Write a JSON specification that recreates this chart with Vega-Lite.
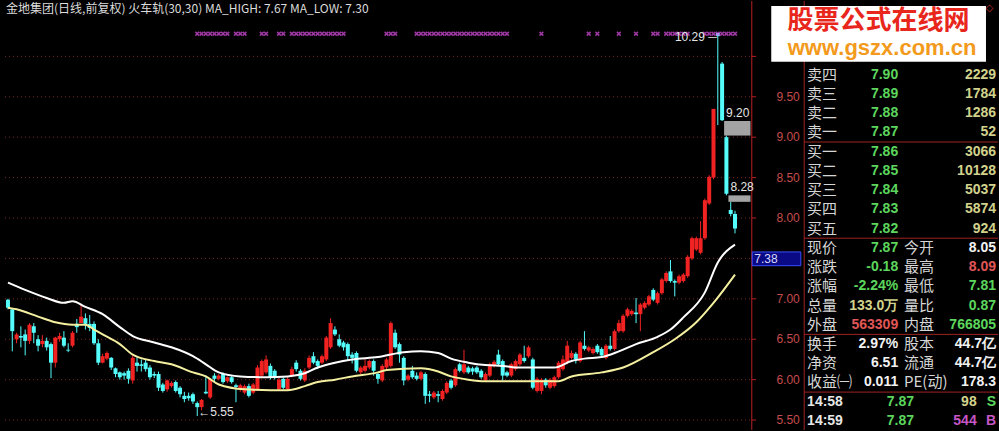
{
"$schema": "https://vega.github.io/schema/vega-lite/v6.json",
"width": 999, "height": 431,
"autosize": {"type": "fit", "contains": "padding"},
"padding": 0,
"background": "#000000",
"config": {"view": {"stroke": null}},
"datasets": {
"k": [
{"i":0,"o":6.99,"h":7.00,"l":6.87,"c":6.89},{"i":1,"o":6.87,"h":6.88,"l":6.35,"c":6.60},{"i":2,"o":6.50,"h":6.58,"l":6.45,"c":6.56},{"i":3,"o":6.54,"h":6.66,"l":6.40,"c":6.52},{"i":4,"o":6.56,"h":6.62,"l":6.30,"c":6.48},{"i":5,"o":6.48,"h":6.70,"l":6.44,"c":6.68},{"i":6,"o":6.66,"h":6.70,"l":6.45,"c":6.58},{"i":7,"o":6.50,"h":6.55,"l":6.35,"c":6.42},{"i":8,"o":6.44,"h":6.55,"l":6.40,"c":6.48},{"i":9,"o":6.48,"h":6.52,"l":6.36,"c":6.40},
{"i":10,"o":6.44,"h":6.46,"l":6.02,"c":6.21},{"i":11,"o":6.21,"h":6.53,"l":6.15,"c":6.52},{"i":12,"o":6.50,"h":6.58,"l":6.47,"c":6.54},{"i":13,"o":6.52,"h":6.60,"l":6.40,"c":6.42},{"i":14,"o":6.37,"h":6.45,"l":6.34,"c":6.36},{"i":15,"o":6.42,"h":6.60,"l":6.40,"c":6.58},{"i":16,"o":6.69,"h":6.75,"l":6.58,"c":6.65},{"i":17,"o":6.70,"h":6.94,"l":6.70,"c":6.78},{"i":18,"o":6.76,"h":6.82,"l":6.62,"c":6.69},{"i":19,"o":6.69,"h":6.80,"l":6.60,"c":6.64},
{"i":20,"o":6.69,"h":6.72,"l":6.43,"c":6.45},{"i":21,"o":6.45,"h":6.50,"l":6.18,"c":6.21},{"i":22,"o":6.21,"h":6.32,"l":6.20,"c":6.29},{"i":23,"o":6.26,"h":6.35,"l":6.24,"c":6.33},{"i":24,"o":6.27,"h":6.28,"l":6.12,"c":6.15},{"i":25,"o":6.14,"h":6.15,"l":6.03,"c":6.07},{"i":26,"o":6.09,"h":6.10,"l":6.00,"c":6.03},{"i":27,"o":6.08,"h":6.10,"l":6.00,"c":6.05},{"i":28,"o":6.11,"h":6.14,"l":5.95,"c":6.01},{"i":29,"o":5.99,"h":6.30,"l":5.95,"c":6.27},
{"i":30,"o":6.21,"h":6.28,"l":6.10,"c":6.17},{"i":31,"o":6.19,"h":6.25,"l":6.10,"c":6.17},{"i":32,"o":6.21,"h":6.25,"l":6.10,"c":6.13},{"i":33,"o":6.15,"h":6.18,"l":6.00,"c":6.03},{"i":34,"o":6.07,"h":6.10,"l":6.02,"c":6.05},{"i":35,"o":6.07,"h":6.10,"l":5.86,"c":5.90},{"i":36,"o":5.94,"h":5.96,"l":5.84,"c":5.86},{"i":37,"o":5.88,"h":6.00,"l":5.85,"c":5.99},{"i":38,"o":5.92,"h":5.98,"l":5.90,"c":5.96},{"i":39,"o":5.97,"h":5.99,"l":5.84,"c":5.86},
{"i":40,"o":5.90,"h":5.92,"l":5.78,"c":5.82},{"i":41,"o":5.80,"h":5.85,"l":5.72,"c":5.76},{"i":42,"o":5.80,"h":5.84,"l":5.74,"c":5.77},{"i":43,"o":5.82,"h":5.84,"l":5.70,"c":5.73},{"i":44,"o":5.71,"h":5.73,"l":5.55,"c":5.66},{"i":45,"o":5.66,"h":5.76,"l":5.62,"c":5.75},{"i":46,"o":5.85,"h":6.05,"l":5.82,"c":5.83},{"i":47,"o":5.78,"h":6.02,"l":5.76,"c":6.01},{"i":48,"o":6.05,"h":6.08,"l":5.98,"c":6.01},{"i":49,"o":6.01,"h":6.07,"l":5.99,"c":6.05},
{"i":50,"o":6.07,"h":6.09,"l":5.95,"c":5.97},{"i":51,"o":5.98,"h":6.04,"l":5.96,"c":6.03},{"i":52,"o":6.03,"h":6.05,"l":5.95,"c":5.97},{"i":53,"o":5.93,"h":5.95,"l":5.72,"c":5.91},{"i":54,"o":5.88,"h":5.95,"l":5.85,"c":5.93},{"i":55,"o":5.84,"h":5.94,"l":5.82,"c":5.92},{"i":56,"o":5.92,"h":5.95,"l":5.78,"c":5.80},{"i":57,"o":5.84,"h":5.96,"l":5.82,"c":5.94},{"i":58,"o":5.88,"h":6.18,"l":5.86,"c":6.15},{"i":59,"o":6.05,"h":6.25,"l":6.03,"c":6.23},
{"i":60,"o":6.09,"h":6.30,"l":6.07,"c":6.25},{"i":61,"o":6.17,"h":6.20,"l":6.00,"c":6.03},{"i":62,"o":6.11,"h":6.13,"l":6.00,"c":6.03},{"i":63,"o":5.88,"h":6.02,"l":5.86,"c":6.00},{"i":64,"o":6.01,"h":6.03,"l":5.88,"c":5.90},{"i":65,"o":5.88,"h":6.03,"l":5.86,"c":6.01},{"i":66,"o":6.05,"h":6.16,"l":6.03,"c":6.13},{"i":67,"o":6.21,"h":6.24,"l":6.10,"c":6.13},{"i":68,"o":6.11,"h":6.13,"l":5.99,"c":6.01},{"i":69,"o":5.99,"h":6.14,"l":5.97,"c":6.11},
{"i":70,"o":6.15,"h":6.30,"l":6.13,"c":6.27},{"i":71,"o":6.29,"h":6.34,"l":6.19,"c":6.21},{"i":72,"o":6.23,"h":6.25,"l":6.13,"c":6.17},{"i":73,"o":6.21,"h":6.31,"l":6.19,"c":6.29},{"i":74,"o":6.25,"h":6.54,"l":6.23,"c":6.52},{"i":75,"o":6.40,"h":6.76,"l":6.38,"c":6.70},{"i":76,"o":6.62,"h":6.66,"l":6.54,"c":6.56},{"i":77,"o":6.50,"h":6.56,"l":6.40,"c":6.42},{"i":78,"o":6.46,"h":6.48,"l":6.36,"c":6.40},{"i":79,"o":6.44,"h":6.46,"l":6.24,"c":6.29},
{"i":80,"o":6.31,"h":6.34,"l":6.20,"c":6.27},{"i":81,"o":6.33,"h":6.35,"l":6.09,"c":6.11},{"i":82,"o":6.09,"h":6.17,"l":6.07,"c":6.15},{"i":83,"o":6.11,"h":6.27,"l":6.09,"c":6.17},{"i":84,"o":6.15,"h":6.25,"l":6.13,"c":6.23},{"i":85,"o":6.23,"h":6.25,"l":6.05,"c":6.11},{"i":86,"o":6.07,"h":6.09,"l":5.95,"c":6.01},{"i":87,"o":5.99,"h":6.19,"l":5.97,"c":6.17},{"i":88,"o":6.15,"h":6.27,"l":6.13,"c":6.25},{"i":89,"o":6.17,"h":6.72,"l":6.15,"c":6.70},
{"i":90,"o":6.58,"h":6.62,"l":6.38,"c":6.40},{"i":91,"o":6.44,"h":6.46,"l":6.21,"c":6.31},{"i":92,"o":6.27,"h":6.29,"l":5.93,"c":5.99},{"i":93,"o":6.00,"h":6.07,"l":5.98,"c":6.05},{"i":94,"o":6.11,"h":6.17,"l":6.01,"c":6.03},{"i":95,"o":6.05,"h":6.09,"l":5.99,"c":6.01},{"i":96,"o":6.01,"h":6.11,"l":5.99,"c":6.09},{"i":97,"o":6.07,"h":6.09,"l":5.70,"c":5.80},{"i":98,"o":5.82,"h":5.86,"l":5.72,"c":5.80},{"i":99,"o":5.78,"h":5.86,"l":5.76,"c":5.84},
{"i":100,"o":5.82,"h":5.86,"l":5.72,"c":5.80},{"i":101,"o":5.76,"h":5.88,"l":5.74,"c":5.86},{"i":102,"o":5.84,"h":5.98,"l":5.82,"c":5.96},{"i":103,"o":5.99,"h":6.01,"l":5.88,"c":5.90},{"i":104,"o":5.93,"h":6.15,"l":5.91,"c":6.13},{"i":105,"o":6.19,"h":6.21,"l":6.09,"c":6.11},{"i":106,"o":6.09,"h":6.37,"l":6.07,"c":6.19},{"i":107,"o":6.15,"h":6.17,"l":6.07,"c":6.09},{"i":108,"o":6.14,"h":6.16,"l":6.06,"c":6.10},{"i":109,"o":6.15,"h":6.17,"l":6.07,"c":6.09},
{"i":110,"o":6.11,"h":6.13,"l":6.01,"c":6.03},{"i":111,"o":5.99,"h":6.09,"l":5.97,"c":6.07},{"i":112,"o":6.05,"h":6.21,"l":6.03,"c":6.19},{"i":113,"o":6.17,"h":6.24,"l":6.15,"c":6.22},{"i":114,"o":6.31,"h":6.37,"l":6.17,"c":6.19},{"i":115,"o":6.23,"h":6.25,"l":5.99,"c":6.05},{"i":116,"o":6.09,"h":6.11,"l":6.03,"c":6.05},{"i":117,"o":6.05,"h":6.21,"l":6.03,"c":6.19},{"i":118,"o":6.13,"h":6.25,"l":6.11,"c":6.23},{"i":119,"o":6.19,"h":6.33,"l":6.17,"c":6.31},
{"i":120,"o":6.27,"h":6.42,"l":6.21,"c":6.23},{"i":121,"o":6.29,"h":6.42,"l":6.27,"c":6.40},{"i":122,"o":6.25,"h":6.27,"l":5.88,"c":5.90},{"i":123,"o":5.86,"h":6.03,"l":5.84,"c":6.01},{"i":124,"o":5.86,"h":6.02,"l":5.82,"c":6.00},{"i":125,"o":6.00,"h":6.02,"l":5.90,"c":5.93},{"i":126,"o":5.90,"h":6.02,"l":5.88,"c":6.00},{"i":127,"o":5.92,"h":6.05,"l":5.90,"c":6.03},{"i":128,"o":6.03,"h":6.23,"l":6.01,"c":6.21},{"i":129,"o":6.13,"h":6.30,"l":6.11,"c":6.25},
{"i":130,"o":6.21,"h":6.48,"l":6.19,"c":6.42},{"i":131,"o":6.27,"h":6.36,"l":6.25,"c":6.33},{"i":132,"o":6.32,"h":6.34,"l":6.20,"c":6.25},{"i":133,"o":6.23,"h":6.48,"l":6.21,"c":6.46},{"i":134,"o":6.42,"h":6.60,"l":6.36,"c":6.38},{"i":135,"o":6.36,"h":6.42,"l":6.34,"c":6.40},{"i":136,"o":6.33,"h":6.40,"l":6.31,"c":6.38},{"i":137,"o":6.42,"h":6.44,"l":6.32,"c":6.34},{"i":138,"o":6.38,"h":6.40,"l":6.28,"c":6.30},{"i":139,"o":6.27,"h":6.44,"l":6.25,"c":6.42},
{"i":140,"o":6.42,"h":6.54,"l":6.36,"c":6.38},{"i":141,"o":6.38,"h":6.62,"l":6.36,"c":6.60},{"i":142,"o":6.60,"h":6.74,"l":6.58,"c":6.70},{"i":143,"o":6.60,"h":6.81,"l":6.58,"c":6.79},{"i":144,"o":6.79,"h":6.89,"l":6.77,"c":6.87},{"i":145,"o":6.81,"h":6.87,"l":6.79,"c":6.85},{"i":146,"o":6.83,"h":7.01,"l":6.70,"c":6.81},{"i":147,"o":6.81,"h":6.95,"l":6.60,"c":6.93},{"i":148,"o":6.89,"h":6.97,"l":6.87,"c":6.95},{"i":149,"o":6.93,"h":7.05,"l":6.91,"c":7.03},
{"i":150,"o":7.11,"h":7.13,"l":6.97,"c":6.99},{"i":151,"o":6.95,"h":7.09,"l":6.93,"c":7.07},{"i":152,"o":7.07,"h":7.26,"l":7.05,"c":7.24},{"i":153,"o":7.22,"h":7.34,"l":7.20,"c":7.32},{"i":154,"o":7.34,"h":7.48,"l":7.20,"c":7.22},{"i":155,"o":7.22,"h":7.24,"l":7.03,"c":7.20},{"i":156,"o":7.20,"h":7.30,"l":7.18,"c":7.28},{"i":157,"o":7.22,"h":7.32,"l":7.20,"c":7.30},{"i":158,"o":7.28,"h":7.54,"l":7.26,"c":7.52},{"i":159,"o":7.50,"h":7.77,"l":7.48,"c":7.75},
{"i":160,"o":7.61,"h":7.77,"l":7.59,"c":7.75},{"i":161,"o":7.57,"h":7.96,"l":7.55,"c":7.75},{"i":162,"o":7.75,"h":8.24,"l":7.73,"c":8.22},{"i":163,"o":8.18,"h":8.53,"l":8.16,"c":8.51},{"i":164,"o":8.50,"h":9.35,"l":8.48,"c":9.35},{"i":165,"o":10.29,"h":10.29,"l":9.15,"c":10.25},{"i":166,"o":9.91,"h":9.93,"l":9.20,"c":9.21},{"i":167,"o":9.00,"h":9.02,"l":8.28,"c":8.30},{"i":168,"o":8.10,"h":8.20,"l":8.02,"c":8.05},{"i":169,"o":8.05,"h":8.09,"l":7.81,"c":7.87}
],
"mah": [
{"i":0,"v":7.20},{"i":4,"v":7.11},{"i":9,"v":7.01},{"i":13,"v":6.95},{"i":15,"v":6.97},{"i":18,"v":6.90},{"i":22,"v":6.81},{"i":26,"v":6.65},{"i":29,"v":6.54},{"i":34,"v":6.46},{"i":38,"v":6.40},{"i":43,"v":6.29},{"i":46,"v":6.19},{"i":49,"v":6.09},{"i":54,"v":6.04},{"i":60,"v":6.03},{"i":65,"v":6.04},{"i":69,"v":6.08},{"i":72,"v":6.15},{"i":76,"v":6.21},{"i":80,"v":6.25},{"i":86,"v":6.28},{"i":92,"v":6.34},{"i":96,"v":6.35},{"i":100,"v":6.33},{"i":103,"v":6.26},{"i":107,"v":6.21},{"i":111,"v":6.18},{"i":115,"v":6.17},{"i":119,"v":6.15},{"i":127,"v":6.15},{"i":131,"v":6.23},{"i":134,"v":6.26},{"i":138,"v":6.28},{"i":142,"v":6.35},{"i":146,"v":6.44},{"i":151,"v":6.53},{"i":154,"v":6.62},{"i":157,"v":6.77},{"i":162,"v":7.08},{"i":165,"v":7.45},{"i":169,"v":7.67}
],
"mal": [
{"i":0,"v":6.89},{"i":2,"v":6.87},{"i":7,"v":6.78},{"i":11,"v":6.71},{"i":15,"v":6.68},{"i":18,"v":6.68},{"i":20,"v":6.62},{"i":22,"v":6.56},{"i":26,"v":6.44},{"i":29,"v":6.31},{"i":34,"v":6.23},{"i":38,"v":6.19},{"i":43,"v":6.09},{"i":46,"v":6.04},{"i":49,"v":5.94},{"i":55,"v":5.88},{"i":61,"v":5.87},{"i":65,"v":5.87},{"i":69,"v":5.92},{"i":72,"v":5.97},{"i":76,"v":6.00},{"i":80,"v":6.04},{"i":86,"v":6.09},{"i":88,"v":6.12},{"i":96,"v":6.14},{"i":100,"v":6.10},{"i":103,"v":6.04},{"i":107,"v":6.00},{"i":111,"v":5.98},{"i":128,"v":5.98},{"i":131,"v":6.04},{"i":138,"v":6.09},{"i":143,"v":6.15},{"i":150,"v":6.34},{"i":155,"v":6.50},{"i":160,"v":6.71},{"i":164,"v":6.95},{"i":169,"v":7.30}
],
"sig": [
{"i":44},{"i":45},{"i":46},{"i":47},{"i":48},{"i":49},{"i":50},{"i":51},{"i":53},{"i":54},{"i":55},{"i":59},{"i":60},{"i":63},{"i":64},{"i":66},{"i":67},{"i":68},{"i":69},{"i":70},{"i":71},{"i":72},{"i":73},{"i":74},{"i":75},{"i":76},{"i":77},{"i":78},{"i":88},{"i":89},{"i":90},
{"i":95},{"i":96},{"i":97},{"i":98},{"i":99},{"i":100},{"i":101},{"i":102},{"i":103},{"i":104},{"i":105},{"i":106},{"i":107},{"i":108},{"i":109},{"i":110},{"i":111},{"i":112},{"i":113},{"i":114},{"i":115},{"i":116},
{"i":124},{"i":135},{"i":137},{"i":142},{"i":146},{"i":150},{"i":151},{"i":153},{"i":154},{"i":155},{"i":156},{"i":157},{"i":158},{"i":162},{"i":163},{"i":164},{"i":165},{"i":166},{"i":167},{"i":168},{"i":169}
],
"grid": [{"p":5.5},{"p":6.0},{"p":6.5},{"p":7.0},{"p":7.5},{"p":8.0},{"p":8.5},{"p":9.0},{"p":9.5},{"p":10.0}],
"axis": [{"p":5.5},{"p":6.0},{"p":6.5},{"p":7.0},{"p":7.5},{"p":8.0},{"p":8.5},{"p":9.0},{"p":9.5}],
"gaps": [{"i":166,"lo":9.02,"hi":9.20},{"i":167,"lo":8.20,"hi":8.28}],
"panel": [
{"r":1,"k1":"卖四","v1":"7.90","c1":"dn","k2":"","v2":"2229","c2":"vol"},
{"r":2,"k1":"卖三","v1":"7.89","c1":"dn","k2":"","v2":"1784","c2":"vol"},
{"r":3,"k1":"卖二","v1":"7.88","c1":"dn","k2":"","v2":"1286","c2":"vol"},
{"r":4,"k1":"卖一","v1":"7.87","c1":"dn","k2":"","v2":"52","c2":"vol"},
{"r":5,"k1":"买一","v1":"7.86","c1":"dn","k2":"","v2":"3066","c2":"vol"},
{"r":6,"k1":"买二","v1":"7.85","c1":"dn","k2":"","v2":"10128","c2":"vol"},
{"r":7,"k1":"买三","v1":"7.84","c1":"dn","k2":"","v2":"5037","c2":"vol"},
{"r":8,"k1":"买四","v1":"7.83","c1":"dn","k2":"","v2":"5874","c2":"vol"},
{"r":9,"k1":"买五","v1":"7.82","c1":"dn","k2":"","v2":"924","c2":"vol"},
{"r":10,"k1":"现价","v1":"7.87","c1":"dn","k2":"今开","v2":"8.05","c2":"wh"},
{"r":11,"k1":"涨跌","v1":"-0.18","c1":"dn","k2":"最高","v2":"8.09","c2":"up"},
{"r":12,"k1":"涨幅","v1":"-2.24%","c1":"dn","k2":"最低","v2":"7.81","c2":"dn"},
{"r":13,"k1":"总量","v1":"133.0万","c1":"vol","k2":"量比","v2":"0.87","c2":"dn"},
{"r":14,"k1":"外盘","v1":"563309","c1":"up","k2":"内盘","v2":"766805","c2":"dn"},
{"r":15,"k1":"换手","v1":"2.97%","c1":"wh","k2":"股本","v2":"44.7亿","c2":"wh"},
{"r":16,"k1":"净资","v1":"6.51","c1":"wh","k2":"流通","v2":"44.7亿","c2":"wh"},
{"r":17,"k1":"收益㈠","v1":"0.011","c1":"wh","k2":"PE(动)","v2":"178.3","c2":"wh"}
],
"ticks": [
{"r":18,"t":"14:58","p":"7.87","pc":"dn","n":"98","nc":"vol","s":"S","sc":"dn"},
{"r":19,"t":"14:59","p":"7.87","pc":"dn","n":"544","nc":"pur","s":"B","sc":"pur"}
],
"seps": [{"r":4.5},{"r":9.5},{"r":14.5},{"r":17.5}]
},
"resolve": {"scale": {"x": "independent", "y": "independent", "color": "independent"}},
"layer": [
{
"layer": [
{"data": {"name": "grid"},
 "mark": {"type": "rule", "stroke": "#7a2626", "strokeDash": [1, 3], "strokeWidth": 1},
 "encoding": {
  "x": {"datum": -0.69, "type": "quantitative", "scale": {"domain": [-0.69, 228.97], "nice": false, "zero": false}, "axis": null},
  "x2": {"datum": 172.9},
  "y": {"field": "p", "type": "quantitative", "scale": {"domain": [5.377, 10.685], "nice": false, "zero": false}, "axis": null}
 }},
{"data": {"values": [{"t": "axis"}]},
 "mark": {"type": "rule", "stroke": "#b82020", "strokeWidth": 1},
 "encoding": {
  "x": {"datum": 172.9, "type": "quantitative", "axis": null},
  "y": {"datum": 5.377, "type": "quantitative", "axis": null},
  "y2": {"datum": 10.685}
 }},
{"data": {"name": "grid"},
 "mark": {"type": "rule", "stroke": "#b82020", "strokeWidth": 1},
 "encoding": {
  "x": {"datum": 172.9, "type": "quantitative", "axis": null},
  "x2": {"datum": 173.9},
  "y": {"field": "p", "type": "quantitative", "axis": null}
 }},
{"data": {"name": "axis"},
 "mark": {"type": "text", "align": "right", "baseline": "middle", "dx": 48, "fill": "#c44c4c", "font": "Liberation Sans", "fontSize": 12},
 "encoding": {
  "x": {"datum": 172.9, "type": "quantitative", "axis": null},
  "y": {"field": "p", "type": "quantitative", "axis": null},
  "text": {"field": "p", "format": ".2f"}
 }},
{"data": {"name": "k"},
 "mark": {"type": "rule", "strokeWidth": 1},
 "encoding": {
  "x": {"field": "i", "type": "quantitative", "axis": null},
  "y": {"field": "l", "type": "quantitative", "axis": null},
  "y2": {"field": "h"},
  "color": {"condition": {"test": "datum.c < datum.o", "value": "#54fcfc"}, "value": "#f02222"}
 }},
{"data": {"name": "k"},
 "mark": {"type": "bar", "width": 4},
 "encoding": {
  "x": {"field": "i", "type": "quantitative", "axis": null},
  "y": {"field": "o", "type": "quantitative", "axis": null},
  "y2": {"field": "c"},
  "color": {"condition": {"test": "datum.c < datum.o", "value": "#54fcfc"}, "value": "#f02222"}
 }},
{"data": {"name": "mah"},
 "mark": {"type": "line", "stroke": "#ffffff", "strokeWidth": 2, "interpolate": "monotone"},
 "encoding": {
  "x": {"field": "i", "type": "quantitative", "axis": null},
  "y": {"field": "v", "type": "quantitative", "axis": null}
 }},
{"data": {"name": "mal"},
 "mark": {"type": "line", "stroke": "#f4f0a0", "strokeWidth": 2, "interpolate": "monotone"},
 "encoding": {
  "x": {"field": "i", "type": "quantitative", "axis": null},
  "y": {"field": "v", "type": "quantitative", "axis": null}
 }},
{"data": {"name": "sig"},
 "mark": {"type": "point", "shape": "M-1,-1L1,1M1,-1L-1,1", "size": 14, "filled": false, "stroke": "#e050e8", "strokeWidth": 1.5},
 "encoding": {
  "x": {"field": "i", "type": "quantitative", "axis": null},
  "y": {"datum": 10.28, "type": "quantitative", "axis": null}
 }},
{"data": {"name": "gaps"},
 "mark": {"type": "rect", "fill": "#a4a4a4", "xOffset": 2},
 "encoding": {
  "x": {"field": "i", "type": "quantitative", "axis": null},
  "x2": {"datum": 172.6},
  "y": {"field": "lo", "type": "quantitative", "axis": null},
  "y2": {"field": "hi"}
 }},
{"data": {"name": "gaps"},
 "mark": {"type": "text", "align": "left", "baseline": "bottom", "dx": 4, "dy": -1, "fill": "#e6e6e6", "font": "Liberation Sans", "fontSize": 12},
 "encoding": {
  "x": {"field": "i", "type": "quantitative", "axis": null},
  "y": {"field": "hi", "type": "quantitative", "axis": null},
  "text": {"field": "hi", "format": ".2f"}
 }},
{"data": {"values": [{"i": 165, "p": 10.29, "t": "10.29 ─"}]},
 "mark": {"type": "text", "align": "right", "baseline": "middle", "dx": -1, "dy": 4, "fill": "#e6e6e6", "font": "Liberation Sans", "fontSize": 12},
 "encoding": {
  "x": {"field": "i", "type": "quantitative", "axis": null},
  "y": {"field": "p", "type": "quantitative", "axis": null},
  "text": {"field": "t"}
 }},
{"data": {"values": [{"i": 44, "p": 5.55, "t": "←5.55"}]},
 "mark": {"type": "text", "align": "left", "baseline": "middle", "dx": 1, "dy": -4, "fill": "#e6e6e6", "font": "Liberation Sans", "fontSize": 12},
 "encoding": {
  "x": {"field": "i", "type": "quantitative", "axis": null},
  "y": {"field": "p", "type": "quantitative", "axis": null},
  "text": {"field": "t"}
 }},
{"data": {"values": [{"t": "金地集团(日线,前复权) 火车轨(30,30)  MA_HIGH: 7.67  MA_LOW: 7.30"}]},
 "mark": {"type": "text", "align": "left", "baseline": "middle", "dx": 1, "dy": 8, "fill": "#dcdcdc", "font": "Noto Sans CJK SC", "fontSize": 12},
 "encoding": {
  "x": {"datum": -0.69, "type": "quantitative", "axis": null},
  "y": {"datum": 10.685, "type": "quantitative", "axis": null},
  "text": {"field": "t"}
 }},
{"data": {"values": [{"t": "7.38"}]},
 "mark": {"type": "rect", "fill": "#0a0a84", "stroke": "#3c4cff", "strokeWidth": 1},
 "encoding": {
  "x": {"datum": 173.0, "type": "quantitative", "axis": null},
  "x2": {"datum": 184.3},
  "y": {"datum": 7.41, "type": "quantitative", "axis": null},
  "y2": {"datum": 7.58}
 }},
{"data": {"values": [{"t": "7.38"}]},
 "mark": {"type": "text", "align": "left", "baseline": "middle", "dx": 2, "fill": "#d8d8ff", "font": "Liberation Sans", "fontSize": 12},
 "encoding": {
  "x": {"datum": 173.0, "type": "quantitative", "axis": null},
  "y": {"datum": 7.495, "type": "quantitative", "axis": null},
  "text": {"field": "t"}
 }}
]
},
{
"layer": [
{"data": {"name": "seps"},
 "mark": {"type": "rule", "stroke": "#a02222", "strokeWidth": 1},
 "encoding": {
  "x": {"datum": 0, "type": "quantitative", "scale": {"domain": [-414.95, 100], "nice": false, "zero": false}, "axis": null},
  "x2": {"datum": 100},
  "y": {"field": "r", "type": "quantitative", "scale": {"domain": [-2.83, 19.47], "nice": false, "zero": false, "reverse": true}, "axis": null}
 }},
{"data": {"values": [{"t": "border"}]},
 "mark": {"type": "rule", "stroke": "#a02222", "strokeWidth": 1},
 "encoding": {
  "x": {"datum": 0, "type": "quantitative", "axis": null},
  "y": {"datum": -2.83, "type": "quantitative", "axis": null},
  "y2": {"datum": 19.47}
 }},
{"data": {"name": "panel"},
 "mark": {"type": "text", "align": "left", "baseline": "middle", "fill": "#d6d6d6", "font": "Noto Sans CJK SC", "fontSize": 15},
 "encoding": {
  "x": {"datum": 1.5, "type": "quantitative", "axis": null},
  "y": {"field": "r", "type": "quantitative", "axis": null},
  "text": {"field": "k1"}
 }},
{"data": {"name": "panel"},
 "mark": {"type": "text", "align": "left", "baseline": "middle", "fill": "#d6d6d6", "font": "Noto Sans CJK SC", "fontSize": 15},
 "encoding": {
  "x": {"datum": 51.5, "type": "quantitative", "axis": null},
  "y": {"field": "r", "type": "quantitative", "axis": null},
  "text": {"field": "k2"}
 }},
{"data": {"name": "panel"},
 "mark": {"type": "text", "align": "right", "baseline": "middle", "font": "Liberation Sans", "fontWeight": "bold", "fontSize": 14},
 "encoding": {
  "x": {"datum": 48.5, "type": "quantitative", "axis": null},
  "y": {"field": "r", "type": "quantitative", "axis": null},
  "text": {"field": "v1"},
  "color": {"field": "c1", "type": "nominal", "scale": {"domain": ["dn", "up", "vol", "wh", "pur"], "range": ["#5cd65c", "#e05656", "#d2d28c", "#f2f2f2", "#c656c6"]}, "legend": null}
 }},
{"data": {"name": "panel"},
 "mark": {"type": "text", "align": "right", "baseline": "middle", "font": "Liberation Sans", "fontWeight": "bold", "fontSize": 14},
 "encoding": {
  "x": {"datum": 99, "type": "quantitative", "axis": null},
  "y": {"field": "r", "type": "quantitative", "axis": null},
  "text": {"field": "v2"},
  "color": {"field": "c2", "type": "nominal", "legend": null}
 }},
{"data": {"name": "ticks"},
 "mark": {"type": "text", "align": "left", "baseline": "middle", "fill": "#e6e6e6", "font": "Liberation Sans", "fontWeight": "bold", "fontSize": 14},
 "encoding": {
  "x": {"datum": 1.5, "type": "quantitative", "axis": null},
  "y": {"field": "r", "type": "quantitative", "axis": null},
  "text": {"field": "t"}
 }},
{"data": {"name": "ticks"},
 "mark": {"type": "text", "align": "right", "baseline": "middle", "font": "Liberation Sans", "fontWeight": "bold", "fontSize": 14},
 "encoding": {
  "x": {"datum": 56.7, "type": "quantitative", "axis": null},
  "y": {"field": "r", "type": "quantitative", "axis": null},
  "text": {"field": "p"},
  "color": {"field": "pc", "type": "nominal", "legend": null}
 }},
{"data": {"name": "ticks"},
 "mark": {"type": "text", "align": "right", "baseline": "middle", "font": "Liberation Sans", "fontWeight": "bold", "fontSize": 14},
 "encoding": {
  "x": {"datum": 89, "type": "quantitative", "axis": null},
  "y": {"field": "r", "type": "quantitative", "axis": null},
  "text": {"field": "n"},
  "color": {"field": "nc", "type": "nominal", "legend": null}
 }},
{"data": {"name": "ticks"},
 "mark": {"type": "text", "align": "right", "baseline": "middle", "font": "Liberation Sans", "fontWeight": "bold", "fontSize": 14},
 "encoding": {
  "x": {"datum": 99, "type": "quantitative", "axis": null},
  "y": {"field": "r", "type": "quantitative", "axis": null},
  "text": {"field": "s"},
  "color": {"field": "sc", "type": "nominal", "legend": null}
 }},
{"data": {"values": [{"t": "◇"}]},
 "mark": {"type": "text", "align": "center", "baseline": "middle", "dy": 7, "fill": "#d03030", "font": "DejaVu Sans", "fontSize": 10},
 "encoding": {
  "x": {"datum": 95.5, "type": "quantitative", "axis": null},
  "y": {"datum": -2.83, "type": "quantitative", "axis": null},
  "text": {"field": "t"}
 }},
{"data": {"values": [{"t": "watermark"}]},
 "mark": {"type": "rect", "fill": "#ffffff"},
 "encoding": {
  "x": {"datum": -17, "type": "quantitative", "axis": null},
  "x2": {"datum": 93.8},
  "y": {"datum": -2.57, "type": "quantitative", "axis": null},
  "y2": {"datum": 0.33}
 }},
{"data": {"values": [{"t": "股票公式在线网"}]},
 "mark": {"type": "text", "align": "center", "baseline": "middle", "fill": "#e8261c", "font": "Noto Sans CJK SC", "fontWeight": "bold", "fontSize": 26},
 "encoding": {
  "x": {"datum": 38.4, "type": "quantitative", "axis": null},
  "y": {"datum": -1.78, "type": "quantitative", "axis": null},
  "text": {"field": "t"}
 }},
{"data": {"values": [{"t": "www.gszx.com.cn"}]},
 "mark": {"type": "text", "align": "center", "baseline": "middle", "fill": "#f39a1c", "font": "Liberation Sans", "fontWeight": "bold", "fontSize": 22},
 "encoding": {
  "x": {"datum": 40.2, "type": "quantitative", "axis": null},
  "y": {"datum": -0.38, "type": "quantitative", "axis": null},
  "text": {"field": "t"}
 }}
]
}
]
}
